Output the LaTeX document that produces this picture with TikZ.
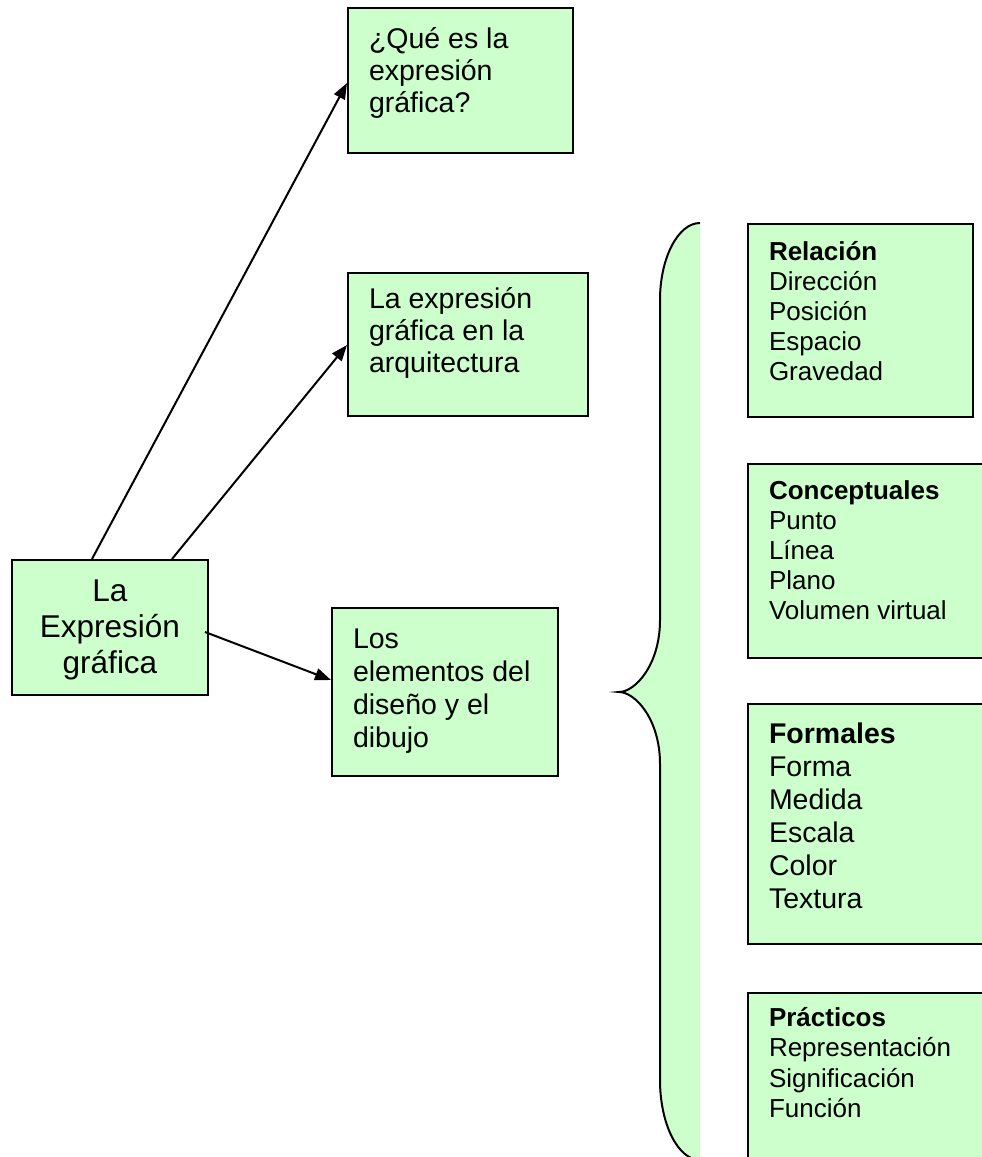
\documentclass[tikz,border=0pt]{standalone}
\usepackage{fontspec}
\setmainfont{Liberation Sans}
\usetikzlibrary{arrows.meta,calc}
\definecolor{boxgreen}{RGB}{204,255,204}
\begin{document}
\begin{tikzpicture}[x=1pt,y=-1pt,
  gbox/.style={draw=black,fill=boxgreen,line width=2pt,inner sep=0pt,anchor=north west},
  link/.style={line width=2pt,-{Triangle[length=16pt,width=12pt]}},
  bracepath/.style={line width=2pt}]
\useasboundingbox (0,0) rectangle (982,1157);
\clip (0,0) rectangle (982,1157);

% left / middle boxes
\node[gbox] (la) at (11,559) {\parbox[t][135pt][t]{196pt}{\centering\fontsize{31.5}{36}\selectfont\rule{0pt}{41pt}La\\Expresión\\gráfica}};
\node[gbox] (q) at (347,7) {\parbox[t][145pt][t]{225pt}{\raggedright\leftskip=21pt\fontsize{28.5}{32}\selectfont\rule{0pt}{40pt}¿Qué es la\\expresión\\gráfica?}};
\node[gbox] (arq) at (347,272) {\parbox[t][143pt][t]{240pt}{\raggedright\leftskip=21pt\fontsize{28.5}{32}\selectfont\rule{0pt}{35pt}La expresión\\gráfica en la\\arquitectura}};
\node[gbox] (los) at (331,607) {\parbox[t][168pt][t]{226pt}{\raggedright\leftskip=21pt\fontsize{28.5}{33}\selectfont\rule{0pt}{40pt}Los\\elementos del\\diseño y el\\dibujo}};

% right boxes
\node[gbox] (rel) at (747,223) {\parbox[t][193pt][t]{225pt}{\raggedright\leftskip=21pt\fontsize{26}{30}\selectfont\rule{0pt}{36pt}\textbf{Relación}\\Dirección\\Posición\\Espacio\\Gravedad}};
\node[gbox] (con) at (747,463) {\parbox[t][194pt][t]{270pt}{\raggedright\leftskip=21pt\fontsize{26}{30}\selectfont\rule{0pt}{35pt}\textbf{Conceptuales}\\Punto\\Línea\\Plano\\Volumen virtual}};
\node[gbox] (for) at (747,703) {\parbox[t][240pt][t]{270pt}{\raggedright\leftskip=21pt\fontsize{28.5}{33}\selectfont\rule{0pt}{39pt}\textbf{Formales}\\Forma\\Medida\\Escala\\Color\\Textura}};
\node[gbox] (pra) at (747,992) {\parbox[t][200pt][t]{270pt}{\raggedright\leftskip=21pt\fontsize{26}{30.5}\selectfont\rule{0pt}{33pt}\textbf{Prácticos}\\Representación\\Significación\\Función}};

% brace
\fill[boxgreen] (700,223) .. controls (678,223) and (660,258) .. (660,300) -- (660,620)
  .. controls (660,665) and (635,692) .. (619,692)
  .. controls (635,692) and (660,719) .. (660,764) -- (660,1080)
  .. controls (660,1124) and (678,1160) .. (700,1160) -- cycle;
\draw[bracepath] (700,223) .. controls (678,223) and (660,258) .. (660,300) -- (660,620)
  .. controls (660,665) and (635,692) .. (619,692)
  .. controls (635,692) and (660,719) .. (660,764) -- (660,1080)
  .. controls (660,1124) and (678,1160) .. (700,1160);

% connectors
\coordinate (s1) at ($(la.north west)+(81,0)$);
\coordinate (s2) at ($(la.north west)+(161,0)$);
\coordinate (s3) at ($(la.north east)+(-4,73)$);
\draw[link] (s1) -- (q.west |- 0,83);
\draw[link] (s2) -- (arq.west |- 0,345);
\draw[link] (s3) -- (los.west |- 0,680);
\end{tikzpicture}
\end{document}
